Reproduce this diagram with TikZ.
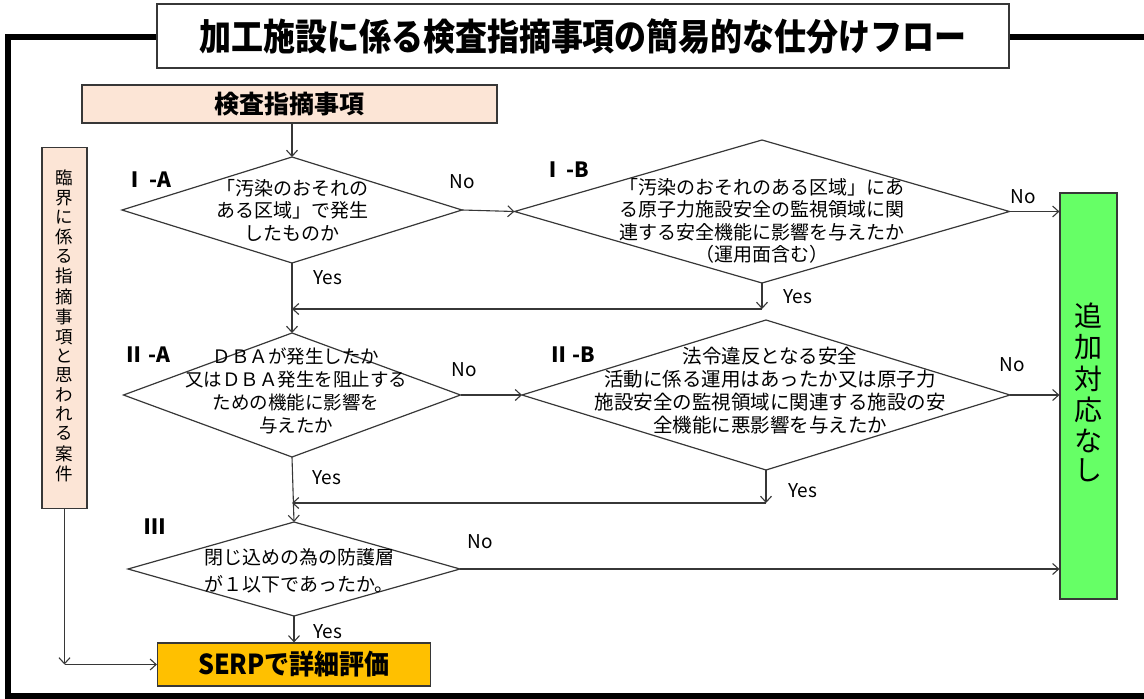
\documentclass[tikz,border=0pt]{standalone}
\usepackage{fontspec}
\setmainfont{Noto Sans CJK JP}
\usetikzlibrary{shapes.geometric,arrows.meta}
\definecolor{peach}{RGB}{252,229,214}
\definecolor{lgreen}{RGB}{102,255,102}
\definecolor{orng}{RGB}{255,192,0}
\definecolor{ln}{RGB}{55,55,55}
\begin{document}
\begin{tikzpicture}[x=1pt,y=-1pt,
  conn/.style={draw=ln, line width=1.1pt, -{Straight Barb[length=6pt,width=11pt]}},
  dia/.style={diamond, draw=ln, line width=1.2pt, inner sep=0pt, outer sep=0pt},
  dtext/.style={font=\fontsize{19}{22.5}\selectfont, align=center, inner sep=0pt},
  lbl/.style={font=\fontsize{19}{22}\selectfont, inner sep=0pt},
  roman/.style={font=\fontsize{21}{24}\selectfont\bfseries, inner sep=0pt},
  pbox/.style={draw=ln, line width=1.2pt, fill=peach, inner sep=0pt, outer sep=0pt}]
\useasboundingbox (0,0) rectangle (1144,699);
% outer frame
\draw[line width=5.5pt] (158,37) -- (8,37) -- (8,696) -- (1150,696);
\draw[line width=5.5pt] (1008,37) -- (1150,37);
% title
\node[draw=ln, line width=1.5pt, fill=white, minimum width=852pt, minimum height=64pt, inner sep=0pt] (title) at (583,36)
  {\scalebox{1}[1.15]{\fontsize{32}{36}\selectfont\bfseries 加工施設に係る検査指摘事項の簡易的な仕分けフロー}};
% start box
\node[pbox, minimum width=415pt, minimum height=38pt] (start) at (289.5,104)
  {\fontsize{25}{28}\selectfont\bfseries 検査指摘事項};
% left box
\node[pbox, minimum width=45pt, minimum height=361pt] (crit) at (64.5,328)
  {\fontsize{17.5}{18.8}\selectfont\begin{tabular}{@{}c@{}}臨\\界\\に\\係\\る\\指\\摘\\事\\項\\と\\思\\わ\\れ\\る\\案\\件\end{tabular}};
% green box
\node[draw=ln, line width=1.2pt, fill=lgreen, minimum width=57pt, minimum height=406pt, inner sep=0pt] (none) at (1088.5,396)
  {\fontsize{28}{26.5}\selectfont\begin{tabular}{@{}c@{}}追\\加\\対\\応\\な\\し\end{tabular}};
% SERP box
\node[draw=ln, line width=1.2pt, fill=orng, minimum width=273pt, minimum height=43pt, inner sep=0pt] (serp) at (294,664.5)
  {\scalebox{1}[1.1]{\fontsize{25}{28}\selectfont\bfseries SERPで詳細評価}};
% diamonds
\node[dia, minimum width=340pt, minimum height=106pt] (d1) at (292,210) {};
\node[dtext] (t1) at (292,210) {「汚染のおそれの\\ある区域」で発生\\したものか};
\node[roman] (r1) at (148,180) {Ⅰ\,-A};

\node[dia, minimum width=495pt, minimum height=143pt] (d2) at (762,211.5) {};
\node[dtext] (t2) at (762,221) {「汚染のおそれのある区域」にあ\\る原子力施設安全の監視領域に関\\連する安全機能に影響を与えたか\\（運用面含む）};
\node[roman] (r2) at (566,170) {Ⅰ\,-B};

\node[dia, minimum width=337pt, minimum height=124pt] (d3) at (292,395) {};
\node[dtext, font=\fontsize{18.5}{23}\selectfont] (t3) at (296,391) {ＤＢＡが発生したか\\又はＤＢＡ発生を阻止する\\ための機能に影響を\\与えたか};
\node[roman] (r3) at (147,355) {Ⅱ\,-A};

\node[dia, minimum width=488pt, minimum height=150pt] (d4) at (766,395) {};
\node[dtext, font=\fontsize{19.5}{23}\selectfont] (t4) at (770,391) {法令違反となる安全\\活動に係る運用はあったか又は原子力\\施設安全の監視領域に関連する施設の安\\全機能に悪影響を与えたか};
\node[roman] (r4) at (572,355) {Ⅱ\,-B};

\node[dia, minimum width=332pt, minimum height=94pt] (d5) at (294,569) {};
\node[dtext, font=\fontsize{19}{27}\selectfont] (t5) at (299,571) {閉じ込めの為の防護層\\が１以下であったか。};
\node[roman] (r5) at (155,527) {Ⅲ};

% connectors
\draw[conn] (start.south -| d1.north) -- (d1.north);
\draw[conn] (d1.east) -- (d2.west);
\node[lbl] (n1) at (462,182) {No};
\draw[conn] (d2.east) -- (d2.east -| none.west);
\node[lbl] (n2) at (1023,197) {No};
\draw[conn] (d1.south) -- (d3.north);
\node[lbl] (y1) at (328,278) {Yes};
\path (d2.south) ++(0,26) coordinate (j1);
\draw[conn] (d2.south) -- (j1);
\draw[conn] (j1) -- (j1 -| d1.south);
\node[lbl] (y2) at (798,297) {Yes};

\draw[conn] (d3.east) -- (d4.west);
\node[lbl] (n3) at (464,370) {No};
\draw[conn] (d4.east) -- (d4.east -| none.west);
\node[lbl] (n4) at (1012,365) {No};
\draw[conn] (d3.south) -- (d5.north);
\node[lbl] (y3) at (327,478) {Yes};
\path (d4.south) ++(0,33) coordinate (j2);
\draw[conn] (d4.south) -- (j2);
\draw[conn] (j2) -- (j2 -| d3.south);
\node[lbl] (y4) at (803,491) {Yes};

\draw[conn] (d5.east) -- (d5.east -| none.west);
\node[lbl] (n5) at (480,542) {No};
\draw[conn] (d5.south) -- (serp.north);
\node[lbl] (y5) at (328,632) {Yes};

\path (crit.south) ++(0,156) coordinate (j3);
\draw[conn] (crit.south) -- (j3);
\draw[conn] (j3) -- (serp.west);
\end{tikzpicture}
\end{document}
